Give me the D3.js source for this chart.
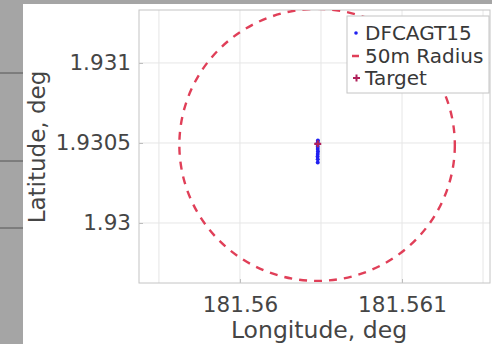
<!DOCTYPE html>
<html>
<head>
<meta charset="utf-8">
<script src="https://cdn.jsdelivr.net/npm/d3@7"></script>
<style>
  body { margin: 0; background: #a5a5a5; }
  svg { display: block; font-family: 'DejaVu Sans', sans-serif; }
</style>
</head>
<body>
<svg id="canvas" width="492" height="344"></svg>
<script>
// measured track (DFCAGT15), target and the radius circle, all in degrees
let trackLon = [181.560481, 181.56048, 181.560479, 181.56048, 181.56048, 181.560481, 181.56048, 181.560479, 181.56048, 181.56048]
let trackLat = [1.930515, 1.930503, 1.93049, 1.930476, 1.930462, 1.930447, 1.930431, 1.930415, 1.930398, 1.930378]

let targetLon = [181.56048]
let targetLat = [1.930495]

let circleCenter = [181.560476, 1.930488]
let circleRadius = 0.00085

let xTicks = [181.56, 181.561]
let xTickLabels = ['181.56', '181.561']
let xGrid = [181.5595, 181.56, 181.5605, 181.561, 181.5615]
let yTicks = [1.93, 1.9305, 1.931]
let yTickLabels = ['1.93', '1.9305', '1.931']

let legendNames = ['DFCAGT15', '50m Radius', 'Target']

let canvas = d3.select('#canvas')

let plotLeft = 139, plotRight = 490, plotTop = 10, plotBottom = 283

let x = d3.scaleLinear()
          .domain([181.559377, 181.561543])
          .range([plotLeft, plotRight])
let y = d3.scaleLinear()
          .domain([1.929625, 1.931331])
          .range([plotBottom, plotTop])

// grey page behind the figure
canvas.append('rect')
      .attr('x', 23).attr('y', 4)
      .attr('width', 469).attr('height', 340)
      .attr('fill', 'white')
;[73, 161, 228].forEach((ly) => {
  canvas.append('line')
        .attr('x1', 0).attr('x2', 23)
        .attr('y1', ly).attr('y2', ly)
        .attr('stroke', '#555').attr('stroke-width', 1)
})

canvas.append('defs').append('clipPath')
      .attr('id', 'plotclip')
      .append('rect')
      .attr('x', plotLeft).attr('y', plotTop)
      .attr('width', plotRight - plotLeft).attr('height', plotBottom - plotTop)

// grid
canvas.append('g')
      .selectAll('line')
      .data(xGrid)
      .enter()
      .append('line')
      .attr('x1', (d) => x(d)).attr('x2', (d) => x(d))
      .attr('y1', plotTop).attr('y2', plotBottom)
      .attr('stroke', '#e6e6e6')
canvas.append('g')
      .selectAll('line')
      .data(yTicks)
      .enter()
      .append('line')
      .attr('x1', plotLeft).attr('x2', plotRight)
      .attr('y1', (d) => y(d)).attr('y2', (d) => y(d))
      .attr('stroke', '#e6e6e6')

// axes
let xAxis = d3.axisBottom(x)
              .tickValues(xTicks)
              .tickFormat((d, i) => xTickLabels[i])
              .tickSize(-4)
              .tickPadding(14)
let yAxis = d3.axisLeft(y)
              .tickValues(yTicks)
              .tickFormat((d, i) => yTickLabels[i])
              .tickSize(-4)
              .tickPadding(8)

let gx = canvas.append('g')
               .attr('transform', 'translate(0,' + plotBottom + ')')
               .call(xAxis)
let gy = canvas.append('g')
               .attr('transform', 'translate(' + plotLeft + ',0)')
               .call(yAxis)

;[gx, gy].forEach((g) => {
  g.select('.domain').remove()
  g.selectAll('line').attr('stroke', '#bdbdbd')
  g.selectAll('text')
   .attr('fill', '#454545')
   .style('font-size', '21.5px')
   .style('font-family', 'DejaVu Sans')
})

canvas.append('rect')
      .attr('x', plotLeft).attr('y', plotTop)
      .attr('width', plotRight - plotLeft).attr('height', plotBottom - plotTop)
      .attr('fill', 'none')
      .attr('stroke', '#c4c4c4')

// axis labels
canvas.append('text')
      .text('Longitude, deg')
      .attr('x', 319)
      .attr('y', 338)
      .attr('text-anchor', 'middle')
      .attr('fill', '#454545')
      .style('font-size', '23.5px')
canvas.append('text')
      .text('Latitude, deg')
      .attr('transform', 'translate(45,147) rotate(-90)')
      .attr('text-anchor', 'middle')
      .attr('fill', '#454545')
      .style('font-size', '23px')

let plot = canvas.append('g').attr('clip-path', 'url(#plotclip)')

// 50m radius circle
plot.append('ellipse')
    .attr('cx', x(circleCenter[0]))
    .attr('cy', y(circleCenter[1]))
    .attr('rx', x(circleCenter[0] + circleRadius) - x(circleCenter[0]))
    .attr('ry', y(circleCenter[1]) - y(circleCenter[1] + circleRadius))
    .attr('fill', 'none')
    .attr('stroke', '#e03f58')
    .attr('stroke-width', 2.4)
    .attr('stroke-dasharray', '8,7')

// track points
plot.selectAll('.track')
    .data(trackLat)
    .enter()
    .append('circle')
    .attr('class', 'track')
    .attr('cx', (d, i) => x(trackLon[i]))
    .attr('cy', (d) => y(d))
    .attr('r', 2)
    .attr('fill', '#2020f0')

// target marker
let tsize = 3.5
plot.selectAll('.target')
    .data(targetLat)
    .enter()
    .append('path')
    .attr('class', 'target')
    .attr('d', (d, i) => {
      let cx = x(targetLon[i]), cy = y(d)
      return 'M' + (cx - tsize) + ',' + cy + 'H' + (cx + tsize) + 'M' + cx + ',' + (cy - tsize) + 'V' + (cy + tsize)
    })
    .attr('stroke', '#b0205a')
    .attr('stroke-width', 2.2)

// legend
let legend = canvas.append('g')
legend.append('rect')
      .attr('x', 347).attr('y', 16)
      .attr('width', 142).attr('height', 77)
      .attr('fill', 'white')
      .attr('stroke', '#c4c4c4')

let rowY = [33, 56, 78]
legendNames.forEach((name, i) => {
  legend.append('text')
        .text(name)
        .attr('x', 365)
        .attr('y', rowY[i])
        .attr('dy', '0.36em')
        .attr('fill', '#383838')
        .style('font-size', '20px')
})
legend.append('circle')
      .attr('cx', 356).attr('cy', rowY[0]).attr('r', 1.8)
      .attr('fill', '#2020f0')
legend.append('line')
      .attr('x1', 352).attr('x2', 359)
      .attr('y1', rowY[1]).attr('y2', rowY[1])
      .attr('stroke', '#e03f58').attr('stroke-width', 2.5)
legend.append('path')
      .attr('d', 'M353,' + rowY[2] + 'H360M356.5,' + (rowY[2] - 3.5) + 'V' + (rowY[2] + 3.5))
      .attr('stroke', '#b0205a').attr('stroke-width', 2)
</script>
</body>
</html>
